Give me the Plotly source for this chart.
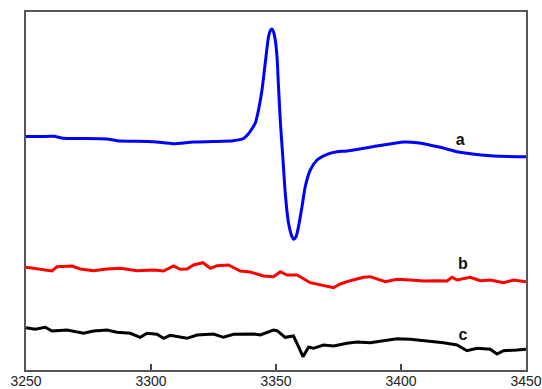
import plotly.graph_objects as go

# Curve a (blue)
a_x = [3250, 3255.7, 3261.0, 3264.9, 3271.7, 3282.4, 3286.4, 3300.9, 3308.9, 3316.9,
       3324.9, 3332.9, 3337.0, 3338.9, 3340.9, 3341.7, 3343.0, 3344.4, 3345.7, 3347.0,
       3347.7, 3348.4, 3349.0, 3349.7, 3350.4, 3351.0, 3351.7, 3352.8, 3353.7, 3355.0,
       3356.4, 3357.0, 3358.0, 3359.0, 3360.4, 3361.7, 3363.7, 3366.4, 3370.4, 3374.4,
       3378.4, 3386.4, 3392.9, 3400.9, 3406.4, 3415.7, 3422.4, 3426.4, 3436.9, 3450]
a_y = [233.5, 233.5, 233.7, 231.7, 231.5, 231, 229.3, 228.3, 226.3, 228,
       228.5, 229.3, 231.5, 236, 243.3, 246.7, 260, 280, 307, 333.3,
       339.3, 341, 338.3, 330, 313.3, 283.3, 250, 210, 177, 147,
       133.3, 130.7, 133.3, 143.3, 163.3, 183.3, 200, 210, 215.7, 218.3,
       219, 222.3, 225, 228, 227.3, 222.7, 218.3, 216.7, 214, 213.3]

# Curve b (red)
b_x = [3250, 3255.7, 3260.4, 3262.4, 3268.4, 3271.7, 3277.0, 3282.4, 3287.7, 3294.4,
       3301.0, 3305.0, 3309.0, 3311.7, 3314.4, 3317.0, 3320.8, 3323.7, 3326.4, 3331.0,
       3335.7, 3339.7, 3345.0, 3349.0, 3351.7, 3354.4, 3358.4, 3363.7, 3367.7, 3373.0,
       3375.7, 3379.7, 3385.0, 3387.7, 3393.7, 3398.4, 3403.7, 3409.0, 3414.4, 3418.4,
       3420.4, 3422.4, 3427.7, 3431.7, 3435.7, 3441.0, 3445.0, 3450]
b_y = [102.7, 100.7, 99, 103.3, 104, 101, 99.3, 101, 101.7, 99.3,
       100, 99, 104, 100.7, 101, 105, 107.3, 101.7, 104.3, 105,
       99, 98, 94, 93.3, 98.3, 95, 95, 87.3, 85, 82.3,
       86, 89.3, 92.7, 93.3, 88.3, 90.7, 90, 89, 89.3, 89,
       92.7, 90, 92.7, 89.3, 90, 87.3, 90, 88.3]

# Curve c (black)
c_x = [3250, 3253.7, 3257.7, 3260.4, 3266.4, 3273.0, 3277.0, 3282.4, 3286.4, 3291.7,
       3295.7, 3298.4, 3302.4, 3305.0, 3307.7, 3314.4, 3318.4, 3325.0, 3329.0, 3333.0,
       3341.0, 3343.7, 3349.0, 3350.4, 3353.7, 3357.0, 3359.0, 3360.8, 3363.0, 3365.0,
       3369.0, 3373.0, 3378.4, 3382.4, 3387.7, 3393.0, 3398.4, 3403.7, 3409.0, 3417.0,
       3422.4, 3426.4, 3430.4, 3435.7, 3438.4, 3441.0, 3446.4, 3450]
c_y = [42.3, 40.7, 42.7, 39, 40, 36.7, 39, 40, 37.7, 36.7,
       32.7, 36.7, 35.7, 31.7, 34.7, 31.7, 35, 36, 32.7, 35.7,
       36, 35, 40, 39.3, 32.7, 34, 23.3, 13.3, 22.7, 21.7,
       25, 24, 26.7, 28, 27.3, 29.3, 31.3, 30.7, 29.3, 27.3,
       25, 19.3, 21.7, 20.7, 16, 19.3, 20, 20.7]

labels = ["a", "b", "c"]
label_x = [3423.7, 3424.8, 3424.8]
label_y = [229.3, 105, 34]

tick_vals = [3250, 3300, 3350, 3400, 3450]
tick_text = ["3250", "3300", "3350", "3400", "3450"]

fig = go.Figure()
fig.add_trace(go.Scatter(x=a_x, y=a_y, mode="lines",
                         line=dict(color="#0000ff", width=3, shape="spline", smoothing=0.6),
                         showlegend=False, hoverinfo="skip"))
fig.add_trace(go.Scatter(x=b_x, y=b_y, mode="lines",
                         line=dict(color="#ff0000", width=3),
                         showlegend=False, hoverinfo="skip"))
fig.add_trace(go.Scatter(x=c_x, y=c_y, mode="lines",
                         line=dict(color="#000000", width=3),
                         showlegend=False, hoverinfo="skip"))
fig.add_trace(go.Scatter(x=label_x, y=label_y, mode="text", text=labels,
                         textfont=dict(family="Liberation Sans, Arial", size=16, color="#111111"),
                         texttemplate="<b>%{text}</b>",
                         showlegend=False, hoverinfo="skip"))

fig.update_layout(
    width=542, height=389,
    margin=dict(l=26, r=16, t=12, b=19, autoexpand=False),
    paper_bgcolor="white", plot_bgcolor="white",
    font=dict(family="Liberation Sans, Arial", size=14, color="#222222"),
)
fig.update_xaxes(range=[3250, 3450], tickvals=tick_vals, ticktext=tick_text,
                 ticks="inside", ticklen=6, tickwidth=1.5, tickcolor="#444444",
                 ticklabelstandoff=-3,
                 showline=True, mirror=True, linecolor="#555555", linewidth=2,
                 showgrid=False, zeroline=False, automargin=False)
fig.update_yaxes(range=[0, 358], showticklabels=False, ticks="",
                 showline=True, mirror=True, linecolor="#555555", linewidth=2,
                 showgrid=False, zeroline=False, automargin=False)

fig.write_html("out.html", config={"displayModeBar": False},
               post_script="document.body.style.margin='0';document.body.style.overflow='hidden';")
